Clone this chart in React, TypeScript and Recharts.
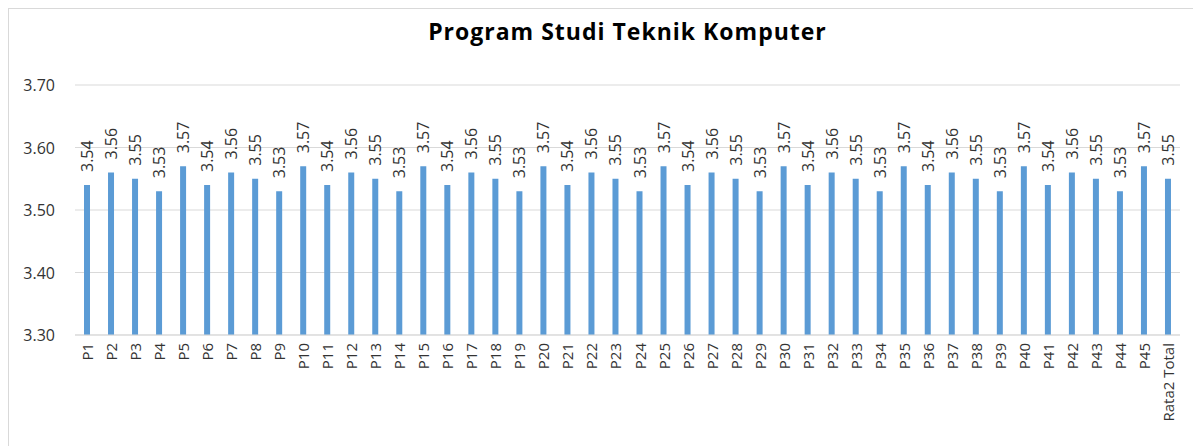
import { BarChart, Bar, XAxis, YAxis, CartesianGrid, LabelList } from "recharts";

const categories = [
  "P1", "P2", "P3", "P4", "P5", "P6", "P7", "P8", "P9", "P10",
  "P11", "P12", "P13", "P14", "P15", "P16", "P17", "P18", "P19", "P20",
  "P21", "P22", "P23", "P24", "P25", "P26", "P27", "P28", "P29", "P30",
  "P31", "P32", "P33", "P34", "P35", "P36", "P37", "P38", "P39", "P40",
  "P41", "P42", "P43", "P44", "P45", "Rata2 Total",
];

const scores = [
  3.54, 3.56, 3.55, 3.53, 3.57, 3.54, 3.56, 3.55, 3.53, 3.57,
  3.54, 3.56, 3.55, 3.53, 3.57, 3.54, 3.56, 3.55, 3.53, 3.57,
  3.54, 3.56, 3.55, 3.53, 3.57, 3.54, 3.56, 3.55, 3.53, 3.57,
  3.54, 3.56, 3.55, 3.53, 3.57, 3.54, 3.56, 3.55, 3.53, 3.57,
  3.54, 3.56, 3.55, 3.53, 3.57, 3.55,
];

const yTicks = [3.3, 3.4, 3.5, 3.6, 3.7];

const data = categories.map((name, i) => ({ name, score: scores[i] }));

const FONT = "'Open Sans', sans-serif";
const TEXT = "#333333";

const XTick = (props: any) => {
  const { x, y, payload } = props;
  const ty = y + 8;
  return (
    <text
      x={x}
      y={ty}
      transform={`rotate(-90, ${x}, ${ty})`}
      textAnchor="end"
      dominantBaseline="central"
      fontFamily={FONT}
      fontSize={15}
      fill={TEXT}
    >
      {payload.value}
    </text>
  );
};

const YTick = (props: any) => {
  const { x, y, payload } = props;
  return (
    <text
      x={x - 20}
      y={y}
      textAnchor="end"
      dominantBaseline="central"
      fontFamily={FONT}
      fontSize={16}
      fill={TEXT}
    >
      {payload.value.toFixed(2)}
    </text>
  );
};

const ValueLabel = (props: any) => {
  const { x, y, width, value } = props;
  const cx = x + width / 2;
  const ty = y - 13;
  return (
    <text
      x={cx}
      y={ty}
      transform={`rotate(-90, ${cx}, ${ty})`}
      textAnchor="start"
      dominantBaseline="central"
      fontFamily={FONT}
      fontSize={16}
      fill={TEXT}
    >
      {Number(value).toFixed(2)}
    </text>
  );
};

export default function App() {
  return (
    <div
      style={{
        position: "relative",
        width: 1192,
        height: 437,
        borderTop: "1px solid #d9d9d9",
        borderLeft: "1px solid #d9d9d9",
        background: "#fff",
      }}
    >
      <div
        style={{
          position: "absolute",
          left: 66,
          width: 1105,
          top: 6,
          textAlign: "center",
          fontFamily: FONT,
          fontWeight: 700,
          fontSize: 23,
          letterSpacing: 1,
          color: "#000",
        }}
      >
        Program Studi Teknik Komputer
      </div>
      <BarChart
        width={1192}
        height={437}
        data={data}
        margin={{ top: 76, right: 21, bottom: 0, left: 0 }}
      >
        <CartesianGrid vertical={false} stroke="#d9d9d9" />
        <XAxis
          dataKey="name"
          interval={0}
          height={111}
          tickSize={0}
          tickMargin={0}
          tickLine={false}
          axisLine={{ stroke: "#d9d9d9" }}
          tick={<XTick />}
        />
        <YAxis
          width={66}
          domain={[3.3, 3.7]}
          ticks={yTicks}
          allowDataOverflow
          tickSize={0}
          tickMargin={0}
          tickLine={false}
          axisLine={false}
          tick={<YTick />}
        />
        <Bar dataKey="score" fill="#5b9bd5" barSize={6} isAnimationActive={false}>
          <LabelList dataKey="score" content={<ValueLabel />} />
        </Bar>
      </BarChart>
    </div>
  );
}
